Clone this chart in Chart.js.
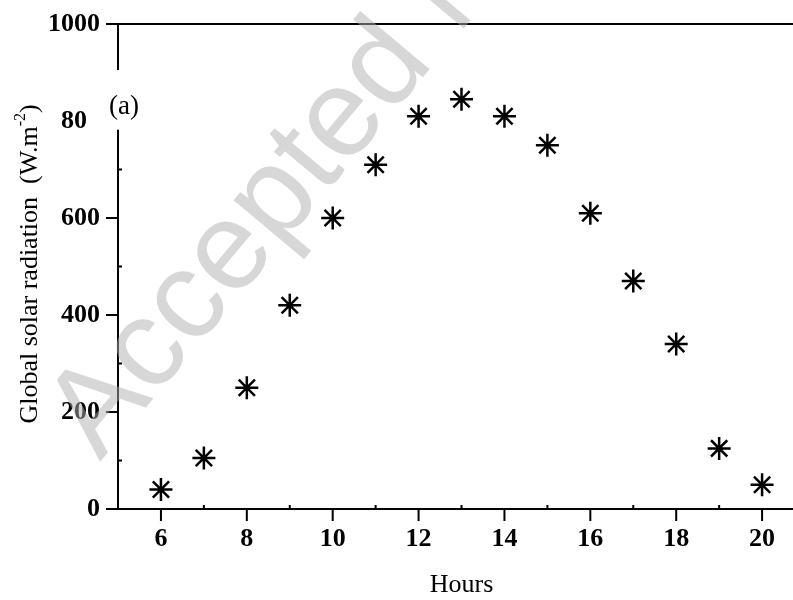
<!DOCTYPE html>
<html>
<head>
<meta charset="utf-8">
<script src="https://cdn.jsdelivr.net/npm/chart.js@4.4.0/dist/chart.umd.min.js"></script>
<style>
  html, body { margin: 0; padding: 0; background: #fff; }
</style>
</head>
<body>
<canvas id="radChart" width="793" height="600"></canvas>
<script>
// hourly global solar radiation (W.m-2)
var hours = [6, 7, 8, 9, 10, 11, 12, 13, 14, 15, 16, 17, 18, 19, 20];
var radiation = [40, 105, 250, 420, 600, 710, 810, 845, 810, 750, 610, 470, 340, 125, 50];

var xTicks = [6, 8, 10, 12, 14, 16, 18, 20];
var xMinor = [7, 9, 11, 13, 15, 17, 19];
var yTicks = [0, 200, 400, 600, 800, 1000];
var yMinor = [100, 300, 500, 700, 900];

var xTitle = "Hours";
var yTitle = "Global solar radiation  (W.m";
var yTitleSup = "-2";
var yTitleEnd = ")";
var panelLabel = "(a)";
var watermark = "Accepted Manuscript";

var serif = '"Liberation Serif", "Times New Roman", serif';

function noPadding(s) {
    s.paddingTop = 0;
    s.paddingBottom = 0;
    s.paddingLeft = 0;
    s.paddingRight = 0;
}

// axis lines, tick marks, titles, panel label and watermark
var framePlugin = {
    id: "framePlugin",
    afterDraw: function (chart) {
        var ctx = chart.ctx;
        var xs = chart.scales.x;
        var ys = chart.scales.y;
        var area = chart.chartArea;
        var y0 = ys.getPixelForValue(0);
        var yTop = ys.getPixelForValue(1000);

        ctx.save();
        ctx.strokeStyle = "#000";
        ctx.lineWidth = 2;
        ctx.lineCap = "butt";

        ctx.beginPath();
        // bottom and top lines
        ctx.moveTo(area.left - 12, y0);
        ctx.lineTo(area.right, y0);
        ctx.moveTo(area.left - 12, yTop);
        ctx.lineTo(area.right, yTop);
        // left axis
        ctx.moveTo(area.left, yTop);
        ctx.lineTo(area.left, y0);
        ctx.stroke();

        // major ticks
        ctx.beginPath();
        xTicks.forEach(function (v) {
            var px = xs.getPixelForValue(v);
            ctx.moveTo(px, y0);
            ctx.lineTo(px, y0 + 12);
        });
        yTicks.forEach(function (v) {
            var py = ys.getPixelForValue(v);
            ctx.moveTo(area.left - 12, py);
            ctx.lineTo(area.left, py);
        });
        ctx.stroke();

        // minor ticks, inside
        ctx.beginPath();
        xMinor.forEach(function (v) {
            var px = xs.getPixelForValue(v);
            ctx.moveTo(px, y0);
            ctx.lineTo(px, y0 - 4);
        });
        yMinor.forEach(function (v) {
            var py = ys.getPixelForValue(v);
            ctx.moveTo(area.left, py);
            ctx.lineTo(area.left + 4, py);
        });
        ctx.stroke();

        // panel label sits on a white box that hides part of the axis
        var boxTop = ys.getPixelForValue(905);
        var boxBottom = ys.getPixelForValue(782);
        ctx.fillStyle = "#fff";
        ctx.fillRect(87, boxTop, 70, boxBottom - boxTop);
        ctx.fillStyle = "#000";
        ctx.font = "27px " + serif;
        ctx.textAlign = "center";
        ctx.textBaseline = "alphabetic";
        ctx.fillText(panelLabel, xs.getPixelForValue(5.14), ys.getPixelForValue(833) + 9);

        // x title
        ctx.font = "26px " + serif;
        ctx.fillText(xTitle, xs.getPixelForValue(13), 592);

        // y title with superscript
        ctx.save();
        ctx.translate(37, 264);
        ctx.rotate(-Math.PI / 2);
        ctx.textAlign = "left";
        ctx.font = "26px " + serif;
        var w1 = ctx.measureText(yTitle).width;
        var w3 = ctx.measureText(yTitleEnd).width;
        ctx.font = "16px " + serif;
        var w2 = ctx.measureText(yTitleSup).width;
        var sx = -(w1 + w2 + w3) / 2;
        ctx.font = "26px " + serif;
        ctx.fillText(yTitle, sx, 0);
        ctx.font = "16px " + serif;
        ctx.fillText(yTitleSup, sx + w1, -12);
        ctx.font = "26px " + serif;
        ctx.fillText(yTitleEnd, sx + w1 + w2, 0);
        ctx.restore();

        // watermark
        ctx.save();
        ctx.translate(100, 462);
        ctx.rotate(-50 * Math.PI / 180);
        ctx.font = '125px "Liberation Sans", Arial, sans-serif';
        ctx.fillStyle = "rgba(175,175,175,0.5)";
        ctx.textAlign = "left";
        ctx.fillText(watermark, 0, 0);
        ctx.restore();

        ctx.restore();
    }
};

var ctx = document.getElementById("radChart").getContext("2d");
var chart = new Chart(ctx, {
    type: "scatter",
    data: {
        datasets: [
            {
                label: "Global solar radiation",
                data: hours.map(function (h, i) { return { x: h, y: radiation[i] }; }),
                pointStyle: "star",
                pointRadius: 11.5,
                pointBorderWidth: 2.5,
                pointBorderColor: "#000",
                pointBackgroundColor: "#000",
                showLine: false
            }
        ]
    },
    options: {
        responsive: false,
        animation: false,
        layout: { autoPadding: false, padding: { top: 24, right: 0, left: 0, bottom: 0 } },
        plugins: {
            legend: { display: false },
            tooltip: { enabled: false }
        },
        scales: {
            x: {
                type: "linear",
                min: 5,
                max: 20.72,
                grid: { display: false, drawTicks: false },
                border: { display: false },
                afterBuildTicks: function (s) {
                    s.ticks = xTicks.map(function (v) { return { value: v }; });
                },
                afterFit: function (s) { s.height = 91; noPadding(s); },
                ticks: {
                    padding: 15,
                    maxRotation: 0,
                    color: "#000",
                    font: { family: serif, size: 26, weight: "bold" },
                    callback: function (v) { return String(v); }
                }
            },
            y: {
                type: "linear",
                min: 0,
                max: 1000,
                grid: { display: false, drawTicks: false },
                border: { display: false },
                afterBuildTicks: function (s) {
                    s.ticks = yTicks.map(function (v) { return { value: v }; });
                },
                afterFit: function (s) { s.width = 118; noPadding(s); },
                ticks: {
                    padding: 18,
                    color: "#000",
                    font: { family: serif, size: 26, weight: "bold" },
                    callback: function (v) { return String(v); }
                }
            }
        }
    },
    plugins: [framePlugin]
});
</script>
</body>
</html>
